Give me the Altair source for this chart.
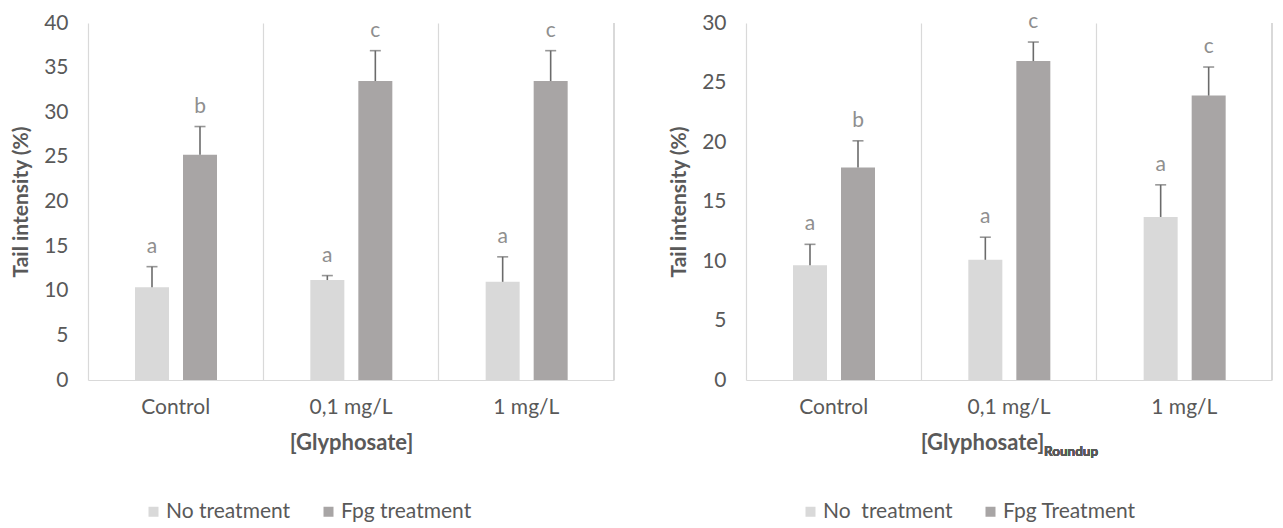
import altair as alt
import pandas as pd

categories = ["Control", "0,1 mg/L", "1 mg/L"]

# Left panel: [Glyphosate]
left_series = ["No treatment", "Fpg treatment"]
left_no_mean = [10.4, 11.2, 11.0]
left_no_sd = [2.3, 0.5, 2.8]
left_no_letters = ["a", "a", "a"]
left_fpg_mean = [25.25, 33.5, 33.5]
left_fpg_sd = [3.15, 3.4, 3.4]
left_fpg_letters = ["b", "c", "c"]
left_ticks = [0, 5, 10, 15, 20, 25, 30, 35, 40]

# Right panel: [Glyphosate]Roundup
right_series = ["No\u00a0 treatment", "Fpg Treatment"]
right_no_mean = [9.65, 10.1, 13.7]
right_no_sd = [1.75, 1.9, 2.7]
right_no_letters = ["a", "a", "a"]
right_fpg_mean = [17.85, 26.8, 23.9]
right_fpg_sd = [2.25, 1.6, 2.4]
right_fpg_letters = ["b", "c", "c"]
right_ticks = [0, 5, 10, 15, 20, 25, 30]

colors = ["#d9d9d9", "#a8a5a5"]
FONT = "Lato"
TXT = "#595959"
W, H = 526, 357
BAR_W = 34
OFFS = [64, 112]  # bar centre offset inside each category band (style)


def make_df(series, no_mean, no_sd, no_let, fpg_mean, fpg_sd, fpg_let):
    rows = []
    for i, c in enumerate(categories):
        rows.append(dict(cat=c, series=series[0], mean=no_mean[i],
                         top=no_mean[i] + no_sd[i], letter=no_let[i]))
        rows.append(dict(cat=c, series=series[1], mean=fpg_mean[i],
                         top=fpg_mean[i] + fpg_sd[i], letter=fpg_let[i]))
    return pd.DataFrame(rows)


def panel(df, series, ticks, xtitle, title_x, legend_x):
    ymax = ticks[-1]
    x = alt.X("cat:N", sort=categories,
              scale=alt.Scale(paddingInner=0, paddingOuter=0),
              axis=alt.Axis(title=xtitle, labelFont=FONT, labelFontSize=21,
                            labelColor=TXT, labelPadding=16, labelAngle=0,
                            ticks=False, domainColor="#d9d9d9", domainWidth=1.2,
                            grid=True, gridColor="#d9d9d9", gridWidth=1.2,
                            bandPosition=0,
                            titleFont=FONT, titleFontSize=22, titleFontWeight="bold",
                            titleColor=TXT, titlePadding=15, titleX=title_x))
    xs = alt.X("cat:N", sort=categories)
    yscale = alt.Scale(domain=[0, ymax], nice=False)
    y = alt.Y("mean:Q", scale=yscale,
              axis=alt.Axis(title="Tail intensity (%)", values=ticks, grid=False,
                            domain=False, ticks=False, labelFont=FONT,
                            labelFontSize=21, labelColor=TXT, labelPadding=20,
                            titleFont=FONT, titleFontSize=21, titleFontWeight="bold",
                            titleColor=TXT, titlePadding=12))
    color = alt.Color("series:N", sort=series,
                      scale=alt.Scale(domain=series, range=colors),
                      legend=alt.Legend(title=None, orient="none",
                                        legendX=legend_x, legendY=H + 121,
                                        direction="horizontal",
                                        symbolType="square", symbolSize=100,
                                        symbolStrokeWidth=0,
                                        labelFont=FONT, labelFontSize=21,
                                        labelColor=TXT, labelOffset=2,
                                        columnPadding=27, labelLimit=300))
    layers = []
    for k, s in enumerate(series):
        base = alt.Chart(df).transform_filter(alt.datum.series == s)
        off = alt.value(OFFS[k])
        layers.append(base.mark_bar(width=BAR_W).encode(
            x=x if k == 0 else xs, xOffset=off, y=y, color=color))
        layers.append(base.mark_rule(color="#6b6b6b", strokeWidth=1.6).encode(
            x=xs, xOffset=off, y=alt.Y("mean:Q", scale=yscale), y2="top:Q"))
        layers.append(base.mark_tick(color="#6b6b6b", size=11, thickness=1.6).encode(
            x=xs, xOffset=off, y=alt.Y("top:Q", scale=yscale)))
        layers.append(base.mark_text(font=FONT, fontSize=21, color="#8f8f8f",
                                     baseline="middle", dy=-20).encode(
            x=xs, xOffset=off, y=alt.Y("top:Q", scale=yscale), text="letter:N"))
    border = alt.Chart(df).mark_rule(color="#d9d9d9", strokeWidth=1.2).encode(
        x=alt.value(W), y=alt.value(0), y2=alt.value(H))
    layers.append(border)
    return alt.layer(*layers).properties(width=W, height=H)


left_df = make_df(left_series, left_no_mean, left_no_sd, left_no_letters,
                  left_fpg_mean, left_fpg_sd, left_fpg_letters)
right_df = make_df(right_series, right_no_mean, right_no_sd, right_no_letters,
                   right_fpg_mean, right_fpg_sd, right_fpg_letters)

left = panel(left_df, left_series, left_ticks, "[Glyphosate]", W / 2, 55)

right_base = panel(right_df, right_series, right_ticks, "[Glyphosate]", 236, 54)
sub = alt.Chart(right_df).mark_text(font=FONT, fontSize=13.5, fontWeight="bold",
                                    color=TXT, align="left", baseline="middle").encode(
    x=alt.value(298), y=alt.value(H + 72), text=alt.value("Roundup"))
right = alt.layer(right_base, sub)

chart = alt.hconcat(left, right, spacing=53).resolve_scale(
    color="independent", y="independent"
).resolve_legend(color="independent").properties(
    padding={"left": 2, "top": 3, "right": 0, "bottom": 0}
).configure_view(stroke=None)

chart.save("out.html", embed_options={"renderer": "svg", "actions": False})
